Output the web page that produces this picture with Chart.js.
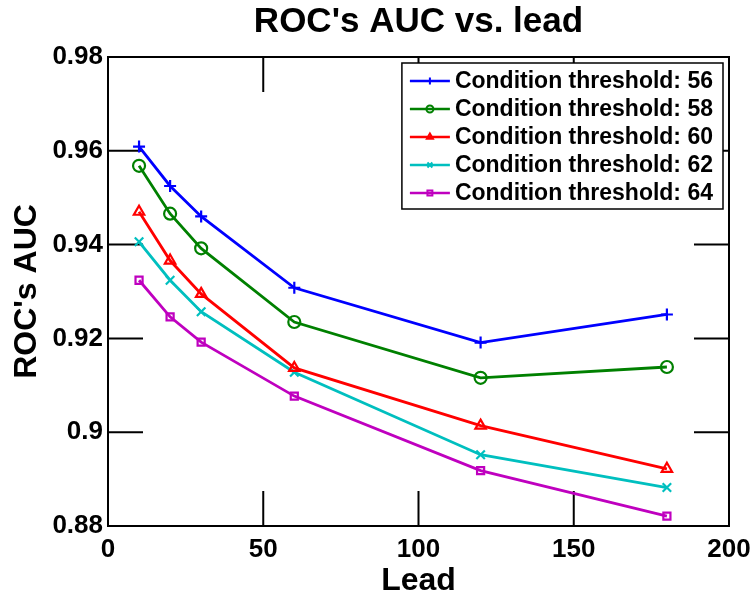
<!DOCTYPE html>
<html>
<head>
<meta charset="utf-8">
<script src="https://cdn.jsdelivr.net/npm/chart.js@4.4.1/dist/chart.umd.min.js"></script>
<style>
  html, body { margin: 0; padding: 0; background: #fff; }
  #wrap { width: 754px; height: 600px; }
</style>
</head>
<body>
<div id="wrap"><canvas id="roc" width="754" height="600"></canvas></div>
<script>
// --- data ---
const leads = [10, 20, 30, 60, 120, 180];
const auc56 = [0.9609, 0.9525, 0.9460, 0.9308, 0.9191, 0.9251];
const auc58 = [0.9568, 0.9466, 0.9392, 0.9235, 0.9116, 0.9139];
const auc60 = [0.9470, 0.9366, 0.9295, 0.9137, 0.9014, 0.8922];
const auc62 = [0.9406, 0.9324, 0.9257, 0.9128, 0.8952, 0.8882];
const auc64 = [0.9324, 0.9246, 0.9192, 0.9077, 0.8918, 0.8821];

const seriesLabels = ['Condition threshold: 56', 'Condition threshold: 58', 'Condition threshold: 60',
                      'Condition threshold: 62', 'Condition threshold: 64'];

const xTicks = [0, 50, 100, 150, 200];
const xTickLabels = ['0', '50', '100', '150', '200'];
const yTicks = [0.88, 0.9, 0.92, 0.94, 0.96, 0.98];
const yTickLabels = ['0.88', '0.9', '0.92', '0.94', '0.96', '0.98'];
// ---

const FONT = "'Liberation Sans', Arial, Helvetica, sans-serif";

// MATLAB風の色とマーカー
const styles = [
    { color: '#0000ff', marker: 'cross' },
    { color: '#008000', marker: 'circle' },
    { color: '#ff0000', marker: 'triangle' },
    { color: '#00bfbf', marker: 'crossRot' },
    { color: '#bf00bf', marker: 'rect' }
];

function makeDataset(label, values, style) {
    return {
        label: label,
        data: leads.map((x, i) => ({ x: x, y: values[i] })),
        borderColor: style.color,
        backgroundColor: style.color,
        borderWidth: 2.8,
        pointStyle: style.marker,
        pointRadius: style.marker === 'rect' ? 5 : 6,
        pointBorderWidth: 2.2,
        pointBackgroundColor: 'rgba(0,0,0,0)',
        pointBorderColor: style.color,
        tension: 0
    };
}

const allSeries = [auc56, auc58, auc60, auc62, auc64];
const datasets = allSeries.map((vals, i) => makeDataset(seriesLabels[i], vals, styles[i]));

// 枠と内向きの目盛り (MATLAB 風)
const boxPlugin = {
    id: 'matlabBox',
    beforeDatasetsDraw(chart) {
        const { ctx, chartArea: a, scales } = chart;
        const len = 35;
        ctx.save();
        ctx.strokeStyle = '#000';
        ctx.lineWidth = 2;
        ctx.beginPath();
        xTicks.forEach(v => {
            const px = scales.x.getPixelForValue(v);
            ctx.moveTo(px, a.bottom); ctx.lineTo(px, a.bottom - len);
            ctx.moveTo(px, a.top); ctx.lineTo(px, a.top + len);
        });
        yTicks.forEach(v => {
            const py = scales.y.getPixelForValue(v);
            ctx.moveTo(a.left, py); ctx.lineTo(a.left + len, py);
            ctx.moveTo(a.right, py); ctx.lineTo(a.right - len, py);
        });
        ctx.stroke();
        ctx.strokeRect(a.left, a.top, a.right - a.left, a.bottom - a.top);
        ctx.restore();
    }
};

// 右上の凡例 (線 + マーカー)
const legendPlugin = {
    id: 'matlabLegend',
    afterDatasetsDraw(chart) {
        const { ctx, chartArea: a } = chart;
        ctx.save();
        ctx.font = 'bold 23px ' + FONT;
        const textW = Math.max(...seriesLabels.map(t => ctx.measureText(t).width));
        const rowH = 28;
        const sampleW = 40;
        const boxW = 8 + sampleW + 5 + textW + 10;
        const boxH = rowH * seriesLabels.length + 6;
        const right = a.right - 6;
        const left = right - boxW;
        const top = a.top + 6;

        ctx.fillStyle = '#fff';
        ctx.fillRect(left, top, boxW, boxH);
        ctx.strokeStyle = '#000';
        ctx.lineWidth = 1.5;
        ctx.strokeRect(left, top, boxW, boxH);

        chart.data.datasets.forEach((ds, i) => {
            const cy = top + 18 + i * rowH;
            const x0 = left + 8;
            ctx.strokeStyle = ds.borderColor;
            ctx.lineWidth = 2.5;
            ctx.beginPath();
            ctx.moveTo(x0, cy);
            ctx.lineTo(x0 + sampleW, cy);
            ctx.stroke();
            ctx.fillStyle = 'rgba(0,0,0,0)';
            ctx.lineWidth = 2;
            Chart.helpers.drawPoint(ctx, {
                pointStyle: ds.pointStyle,
                radius: 3.5,
                borderWidth: 2,
                rotation: 0
            }, x0 + sampleW / 2, cy);
            ctx.fillStyle = '#000';
            ctx.textAlign = 'left';
            ctx.textBaseline = 'middle';
            ctx.fillText(ds.label, x0 + sampleW + 5, cy + 1);
        });
        ctx.restore();
    }
};

new Chart(document.getElementById('roc'), {
    type: 'line',
    data: { datasets: datasets },
    options: {
        responsive: false,
        animation: false,
        layout: { padding: { left: 0, right: 25, top: 0, bottom: 0 } },
        plugins: {
            legend: { display: false },
            tooltip: { enabled: false },
            title: {
                display: true,
                fullSize: false,
                text: "ROC's AUC vs. lead",
                color: '#000',
                font: { family: FONT, size: 35, weight: 'bold', lineHeight: 1.2 },
                padding: { top: 1, bottom: 14 }
            }
        },
        scales: {
            x: {
                type: 'linear',
                min: 0,
                max: 200,
                afterBuildTicks: s => { s.ticks = xTicks.map(v => ({ value: v })); },
                afterFit: s => {
                    s.height = 74;
                    s.paddingRight = 0;
                },
                grid: { display: false, drawTicks: false },
                border: { display: false },
                ticks: {
                    color: '#000',
                    padding: 8,
                    maxRotation: 0,
                    font: { family: FONT, size: 26, weight: 'bold', lineHeight: 1.2 },
                    callback: v => xTickLabels[xTicks.indexOf(v)]
                },
                title: {
                    display: true,
                    text: 'Lead',
                    color: '#000',
                    font: { family: FONT, size: 32, weight: 'bold', lineHeight: 1.2 },
                    padding: { top: 0, bottom: 0 }
                }
            },
            y: {
                min: 0.88,
                max: 0.98,
                afterBuildTicks: s => { s.ticks = yTicks.map(v => ({ value: v })); },
                afterFit: s => { s.width = 108; },
                grid: { display: false, drawTicks: false },
                border: { display: false },
                ticks: {
                    color: '#000',
                    padding: 5,
                    font: { family: FONT, size: 26, weight: 'bold', lineHeight: 1.2 },
                    callback: v => {
                        const i = yTicks.findIndex(t => Math.abs(t - v) < 1e-9);
                        return i >= 0 ? yTickLabels[i] : '';
                    }
                },
                title: {
                    display: true,
                    text: "ROC's AUC",
                    color: '#000',
                    font: { family: FONT, size: 32, weight: 'bold', lineHeight: 1.2 },
                    padding: { top: 8, bottom: 0 }
                }
            }
        }
    },
    plugins: [boxPlugin, legendPlugin]
});
</script>
</body>
</html>
